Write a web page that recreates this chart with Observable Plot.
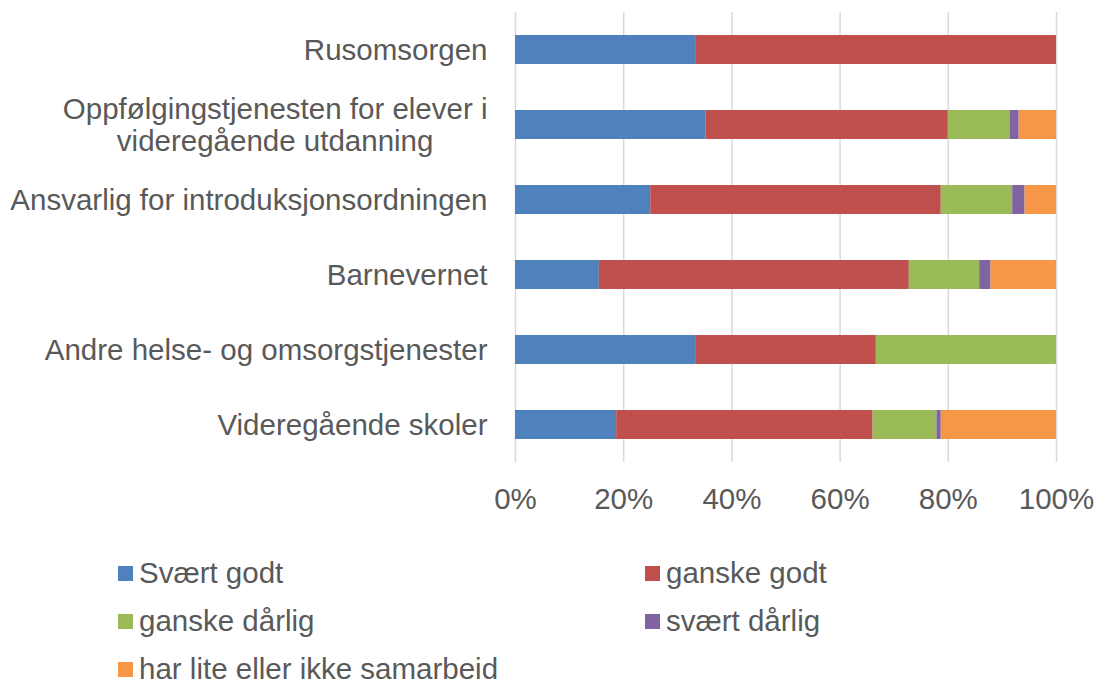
<!DOCTYPE html>
<html>
<head>
<meta charset="utf-8">
<script src="https://cdn.jsdelivr.net/npm/d3@7"></script>
<script src="https://cdn.jsdelivr.net/npm/@observablehq/plot@0.6"></script>
<style>
  body { margin: 0; background: #fff; font-family: "Liberation Sans", Arial, sans-serif; }
  #chart { position: relative; width: 1096px; height: 683px; overflow: hidden; }
  #legend { position: absolute; left: 118px; top: 549px; display: grid; grid-template-columns: 527px 420px; grid-auto-rows: 48px; }
  .item { display: flex; align-items: center; font-size: 29.5px; line-height: 1; color: #595959; height: 48px; white-space: nowrap; }
  .sw { width: 15px; height: 15px; margin-right: 6px; flex: none; }
</style>
</head>
<body>
<div id="chart"></div>
<script>
const categories = [
  "Rusomsorgen",
  "Oppfølgingstjenesten for elever i\nvideregående utdanning",
  "Ansvarlig for introduksjonsordningen",
  "Barnevernet",
  "Andre helse- og omsorgstjenester",
  "Videregående skoler"
];
const series = ["Svært godt", "ganske godt", "ganske dårlig", "svært dårlig", "har lite eller ikke samarbeid"];
const colors = ["#4f81bd", "#c0504d", "#9bbb59", "#8064a2", "#f79646"];
const svaertGodt   = [33.3, 35.2, 25.0, 15.5, 33.3, 18.7];
const ganskeGodt   = [66.7, 44.8, 53.7, 57.3, 33.4, 47.4];
const ganskeDarlig = [0,    11.4, 13.2, 13.0, 33.3, 11.8];
const svaertDarlig = [0,     1.7,  2.3,  2.1,  0,    0.8];
const harLite      = [0,     6.9,  5.8, 12.1,  0,   21.3];
const xTicks = [0, 0.2, 0.4, 0.6, 0.8, 1];

const valueArrays = [svaertGodt, ganskeGodt, ganskeDarlig, svaertDarlig, harLite];
const data = [];
series.forEach((s, si) => categories.forEach((c, ci) => {
  data.push({category: c, series: s, value: valueArrays[si][ci]});
}));

const plot = Plot.plot({
  width: 1096,
  height: 540,
  marginLeft: 515,
  marginRight: 40,
  marginTop: 12,
  marginBottom: 78,
  style: {fontFamily: "'Liberation Sans', Arial, sans-serif", fontSize: "29.5px", color: "#595959", background: "#fff"},
  x: {domain: [0, 1], ticks: xTicks, tickFormat: d3.format(".0%")},
  y: {domain: categories, paddingInner: 0.613, paddingOuter: 0.3},
  color: {domain: series, range: colors},
  marks: [
    Plot.gridX(xTicks, {stroke: "#d9d9d9", strokeWidth: 1.5, strokeOpacity: 1}),
    Plot.barX(data, Plot.stackX({offset: "normalize", order: null, x: "value", y: "category", fill: "series"})),
    Plot.axisX(xTicks, {tickSize: 0, tickPadding: 26, tickFormat: d3.format(".0%"), fill: "#595959", fontSize: 29.5, label: null}),
    Plot.axisY({tickSize: 0, tickPadding: 28, fill: "#595959", fontSize: 29.5, lineHeight: 1.09, label: null})
  ]
});
document.getElementById("chart").appendChild(plot);

// center multi-line y labels within their block (Excel style)
plot.querySelectorAll("[aria-label='y-axis tick label'] text").forEach(t => {
  const tspans = t.querySelectorAll("tspan");
  if (tspans.length > 1) {
    let maxW = 0;
    tspans.forEach(ts => { maxW = Math.max(maxW, ts.getComputedTextLength()); });
    t.setAttribute("text-anchor", "middle");
    const x0 = +(t.getAttribute("x") || 0);
    t.setAttribute("x", x0 - maxW / 2);
    tspans.forEach(ts => ts.setAttribute("x", x0 - maxW / 2));
  }
});

const legend = document.createElement("div");
legend.id = "legend";
series.forEach((s, i) => {
  const item = document.createElement("div");
  item.className = "item";
  const sw = document.createElement("span");
  sw.className = "sw";
  sw.style.background = colors[i];
  const lab = document.createElement("span");
  lab.textContent = s;
  item.appendChild(sw);
  item.appendChild(lab);
  legend.appendChild(item);
});
document.getElementById("chart").appendChild(legend);
</script>
</body>
</html>
